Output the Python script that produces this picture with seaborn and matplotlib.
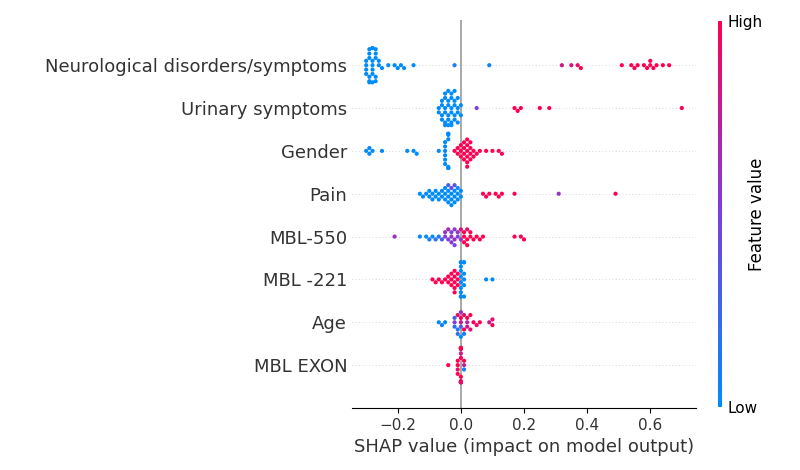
import matplotlib
matplotlib.use("Agg")
import matplotlib.pyplot as plt
from matplotlib.colors import LinearSegmentedColormap
import numpy as np
import pandas as pd
import seaborn as sns

features = ["Neurological disorders/symptoms", "Urinary symptoms", "Gender", "Pain",
            "MBL-550", "MBL -221", "Age", "MBL EXON"]

shap_neuro = [-0.30, -0.30, -0.30, -0.29, -0.29, -0.29, -0.29, -0.29, -0.28, -0.28, -0.28,
              -0.28, -0.28, -0.28, -0.27, -0.27, -0.27, -0.27, -0.26, -0.26, -0.30, -0.29,
              -0.28, -0.27, -0.25, -0.23, -0.21, -0.20, -0.19, -0.18, -0.15, -0.02, 0.09,
              0.32, 0.35, 0.37, 0.38, 0.51, 0.54, 0.55, 0.56, 0.58, 0.59, 0.60, 0.60, 0.61,
              0.62, 0.64, 0.66]
fv_neuro = [0.0] * 31 + [0.1, 0.05] + [0.8, 0.85, 0.9, 1.0] + [1.0] * 12

shap_urin = [-0.07, -0.07, -0.06, -0.06, -0.06, -0.05, -0.05, -0.05, -0.05, -0.04, -0.04,
             -0.04, -0.04, -0.03, -0.03, -0.03, -0.03, -0.02, -0.02, -0.02, -0.02, -0.01,
             -0.01, -0.01, 0.0, 0.0, -0.06, -0.05, -0.04, -0.03, -0.02, -0.01, -0.05,
             -0.04, -0.03, 0.05, 0.17, 0.18, 0.19, 0.25, 0.28, 0.70]
fv_urin = [0.0] * 35 + [0.5, 1.0, 1.0, 1.0, 1.0, 1.0, 1.0]

shap_gender = [-0.30, -0.29, -0.29, -0.28, -0.25, -0.17, -0.15, -0.14, -0.07, -0.05, -0.05,
               -0.05, -0.05, -0.04, -0.04, -0.04, -0.04, -0.04, -0.05, -0.04, -0.05, -0.04,
               -0.02, -0.01, -0.01, 0.0, 0.0, 0.01, 0.01, 0.01, 0.02, 0.02, 0.02, 0.02,
               0.03, 0.03, 0.03, 0.04, 0.04, 0.05, 0.06, 0.08, 0.10, 0.12, 0.13, 0.02,
               0.01, 0.03, 0.0, 0.02]
fv_gender = [0.0] * 22 + [1.0] * 28

shap_pain = [-0.13, -0.12, -0.11, -0.10, -0.10, -0.09, -0.09, -0.08, -0.08, -0.07, -0.07,
             -0.06, -0.06, -0.05, -0.05, -0.05, -0.04, -0.04, -0.04, -0.03, -0.03, -0.03,
             -0.02, -0.02, -0.02, -0.01, -0.01, -0.01, 0.0, 0.0, -0.04, -0.03, -0.02,
             0.07, 0.08, 0.09, 0.11, 0.12, 0.13, 0.17, 0.31, 0.49]
fv_pain = [0.0] * 30 + [0.3, 0.4, 0.35] + [1.0] * 7 + [0.6, 1.0]

shap_mbl550 = [-0.21, -0.13, -0.11, -0.10, -0.09, -0.08, -0.07, -0.06, -0.05, -0.05, -0.04,
               -0.04, -0.03, -0.03, -0.02, -0.02, -0.01, -0.01, 0.0, -0.03, -0.02, 0.01,
               0.01, 0.02, 0.02, 0.03, 0.03, 0.04, 0.05, 0.06, 0.07, 0.0, 0.01, 0.02,
               0.17, 0.19, 0.20]
fv_mbl550 = [0.6, 0.0, 0.0, 0.1, 0.0, 0.2, 0.1, 0.3, 0.5, 0.6, 0.5, 0.7, 0.6, 0.5, 0.6,
             0.55, 0.6, 0.5, 0.6, 0.55, 0.5] + [1.0] * 10 + [0.9, 1.0, 0.9] + [1.0] * 3

shap_mbl221 = [-0.09, -0.08, -0.07, -0.06, -0.05, -0.04, -0.04, -0.03, -0.03, -0.02, -0.02,
               -0.02, -0.02, -0.01, -0.01, -0.01, -0.03, -0.02, 0.0, 0.0, 0.0, 0.0, 0.0,
               0.0, 0.01, 0.01, 0.01, 0.0, 0.01, 0.0, 0.01, 0.0, 0.01, 0.0, 0.08, 0.10]
fv_mbl221 = [1.0] * 18 + [0.0] * 18

shap_age = [-0.07, -0.06, -0.05, -0.02, -0.02, -0.01, -0.01, 0.0, 0.0, 0.0, 0.01, 0.01,
            0.02, 0.02, 0.03, 0.03, 0.04, 0.05, 0.06, -0.01, 0.0, 0.01, 0.02, 0.0, -0.02,
            0.09, 0.10, 0.10]
fv_age = [0.0, 0.1, 0.0, 0.5, 0.2, 0.9, 0.1, 1.0, 0.3, 0.8, 1.0, 0.9, 1.0, 0.8, 1.0, 0.9,
          1.0, 0.9, 1.0, 0.2, 0.6, 0.1, 0.7, 0.0, 0.3, 0.8, 1.0, 0.9]

shap_exon = [-0.04, -0.01, -0.01, -0.01, 0.0, 0.0, 0.0, 0.0, 0.0, 0.0, 0.01, 0.01, 0.0,
             -0.01, 0.0, 0.0, 0.01, 0.0, 0.0, 0.0]
fv_exon = [1.0, 1.0, 0.9, 1.0, 1.0, 0.8, 1.0, 1.0, 0.9, 1.0, 1.0, 0.7, 1.0, 1.0, 0.9, 1.0,
           0.1, 1.0, 1.0, 0.9]

shap_all = [shap_neuro, shap_urin, shap_gender, shap_pain, shap_mbl550, shap_mbl221, shap_age, shap_exon]
fv_all = [fv_neuro, fv_urin, fv_gender, fv_pain, fv_mbl550, fv_mbl221, fv_age, fv_exon]

rows = []
for name, sv, fv in zip(features, shap_all, fv_all):
    for s, f in zip(sv, fv):
        rows.append((name, s, f))
df = pd.DataFrame(rows, columns=["feature", "shap", "value"])

cmap = LinearSegmentedColormap.from_list("shap", ["#008bfb", "#7b3fe0", "#ff0051"])

fig = plt.figure(figsize=(8, 4.7), dpi=100)
ax = fig.add_axes([0.44, 0.132, 0.43, 0.825])
for i in range(len(features)):
    ax.axhline(i, color="#cccccc", lw=0.6, ls=(0, (1, 3)), zorder=0)
ax.axvline(0, color="#999999", lw=1.2, zorder=1)
sns.swarmplot(data=df, x="shap", y="feature", hue="value", order=features, palette=cmap,
              hue_norm=(0, 1), size=3, legend=False, ax=ax, zorder=3)

ax.set_xlim(-0.345, 0.745)
ax.set_ylim(8.0, -1.05)
ax.set_xticks([-0.2, 0.0, 0.2, 0.4, 0.6])
ax.set_xticklabels(["\u22120.2", "0.0", "0.2", "0.4", "0.6"])
ax.set_ylabel("")
ax.set_xlabel("SHAP value (impact on model output)", fontsize=13, color="#333333")
ax.tick_params(axis="y", length=0, labelsize=13, labelcolor="#333333")
ax.tick_params(axis="x", labelsize=11, labelcolor="#333333")
for sp in ["top", "right", "left"]:
    ax.spines[sp].set_visible(False)

cax = fig.add_axes([0.897, 0.135, 0.006, 0.82])
sm = plt.cm.ScalarMappable(cmap=cmap, norm=plt.Normalize(0, 1))
cb = fig.colorbar(sm, cax=cax, ticks=[0, 1])
cb.set_ticklabels(["Low", "High"])
cb.ax.tick_params(length=0, labelsize=11)
cb.outline.set_visible(False)
cb.set_label("Feature value", fontsize=12, labelpad=-10)

fig.savefig("out.png", dpi=100)
